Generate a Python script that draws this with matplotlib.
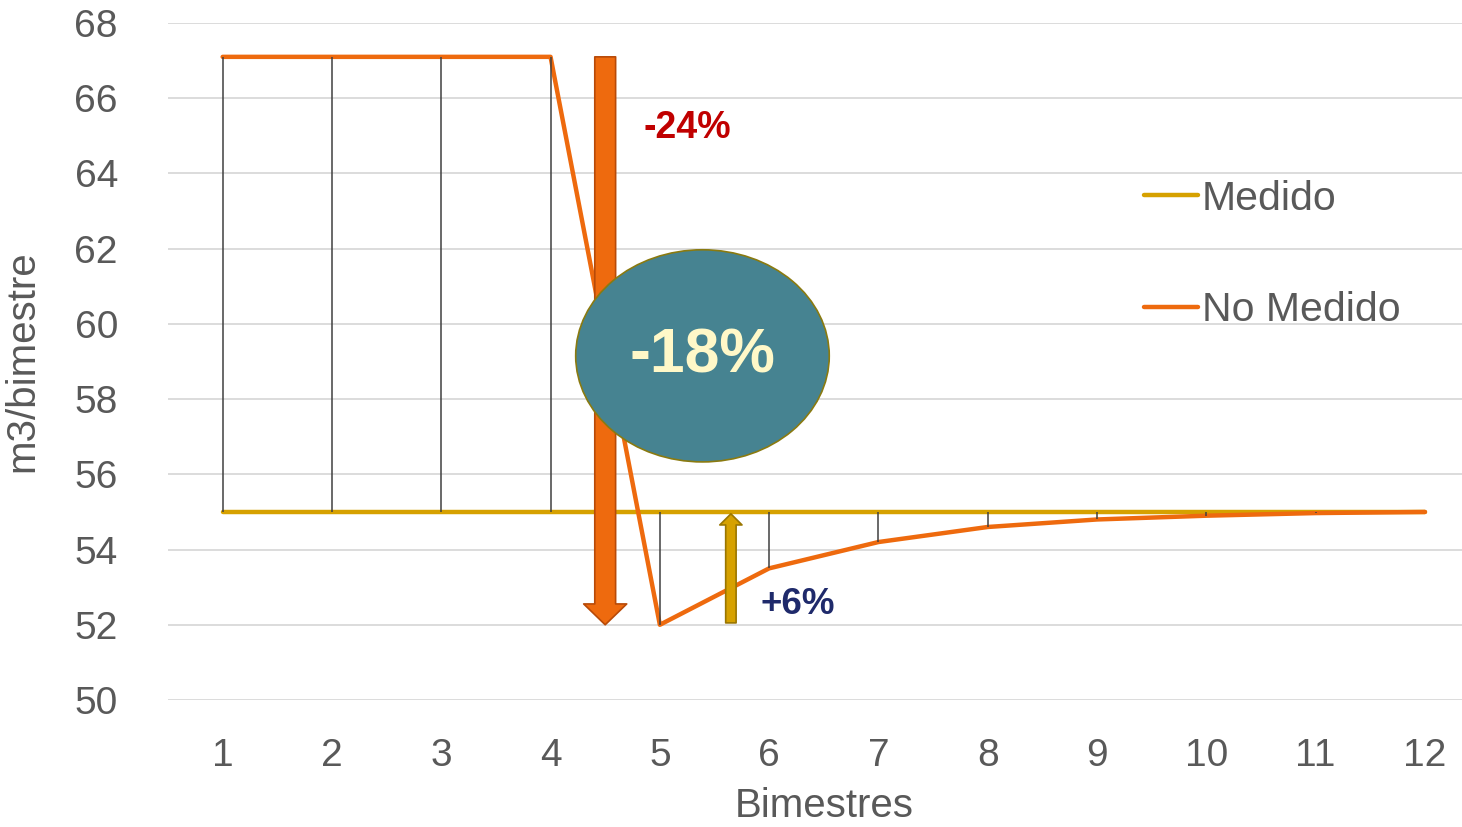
import numpy as np
import matplotlib.pyplot as plt
from matplotlib.patches import Ellipse

plt.rcParams['font.family'] = ['Liberation Sans', 'DejaVu Sans']

bimestres = np.arange(1, 13)
medido = [55, 55, 55, 55, 55, 55, 55, 55, 55, 55, 55, 55]
no_medido = [67.1, 67.1, 67.1, 67.1, 52.0, 53.5, 54.2, 54.6, 54.8, 54.9, 54.97, 55.0]
yticks = np.arange(50, 69, 2)

gray_txt = '#595959'
gold = '#d6a100'
orange = '#ee6a0e'

fig = plt.figure(figsize=(14.62, 8.27), dpi=100)
ax = fig.add_axes([168 / 1462, 1 - 700 / 827, 1294 / 1462, 677 / 827])

ax.plot(bimestres, medido, color=gold, lw=3.2, solid_capstyle='round', label='Medido', zorder=3)
ax.plot(bimestres, no_medido, color=orange, lw=3.2, solid_capstyle='round', label='No Medido', zorder=3)

# high-low lines between the two series
ax.vlines(bimestres, medido, no_medido, color='#404040', lw=1.1, zorder=4)

# -24% arrow (from flat level down to the minimum)
ax.annotate('', xy=(4.5, min(no_medido)), xytext=(4.5, no_medido[0]),
            arrowprops=dict(arrowstyle='simple,head_length=15,head_width=31,tail_width=15',
                            mutation_scale=1, fc=orange, ec='#b84a08', lw=1.2,
                            shrinkA=0, shrinkB=0), zorder=5)
ax.text(4.85, 65.2, '-24%', color='#c00000', fontsize=27, fontweight='bold',
        ha='left', va='center')

# +6% arrow (recovery from minimum back to measured level)
ax.annotate('', xy=(5.65, medido[0] - 0.05), xytext=(5.65, min(no_medido) + 0.05),
            arrowprops=dict(arrowstyle='simple,head_length=8,head_width=16,tail_width=7.5',
                            mutation_scale=1, fc=gold, ec='#9a7600', lw=1.2,
                            shrinkA=0, shrinkB=0), zorder=5)
ax.text(5.92, 52.55, '+6%', color='#1f2a6b', fontsize=26.5, fontweight='bold',
        ha='left', va='center')

# -18% bubble
ell = Ellipse((5.39, 59.15), 2.32, 5.64, fc='#468391', ec='#8a7a10', lw=1.2, zorder=6)
ax.add_patch(ell)
ax.text(5.39, 59.15, '-18%', color='#fff8c8', fontsize=45, fontweight='bold',
        ha='center', va='center', zorder=7)

ax.set_xlim(0.5, 0.5 + 1294 / 109.3)
ax.set_ylim(50, 68)
ax.set_xticks(bimestres)
ax.set_yticks(yticks)
ax.tick_params(axis='both', length=0, labelsize=28, labelcolor=gray_txt)
ax.tick_params(axis='y', pad=36)
ax.tick_params(axis='x', pad=27)
for s in ax.spines.values():
    s.set_visible(False)
ax.yaxis.grid(True, color='#d9d9d9', lw=1.3)
ax.set_axisbelow(True)

ax.set_xlabel('Bimestres', fontsize=29, color=gray_txt)
ax.xaxis.set_label_coords(0.507, -0.128)
ax.set_ylabel('m3/bimestre', fontsize=29, color=gray_txt, labelpad=24)

ax.legend(loc='upper left', bbox_to_anchor=(0.726, 0.823), frameon=False,
          fontsize=29.5, handlelength=1.3, handletextpad=0.1, labelspacing=1.8,
          labelcolor=gray_txt)

plt.savefig('out.png', dpi=100)
plt.close()
